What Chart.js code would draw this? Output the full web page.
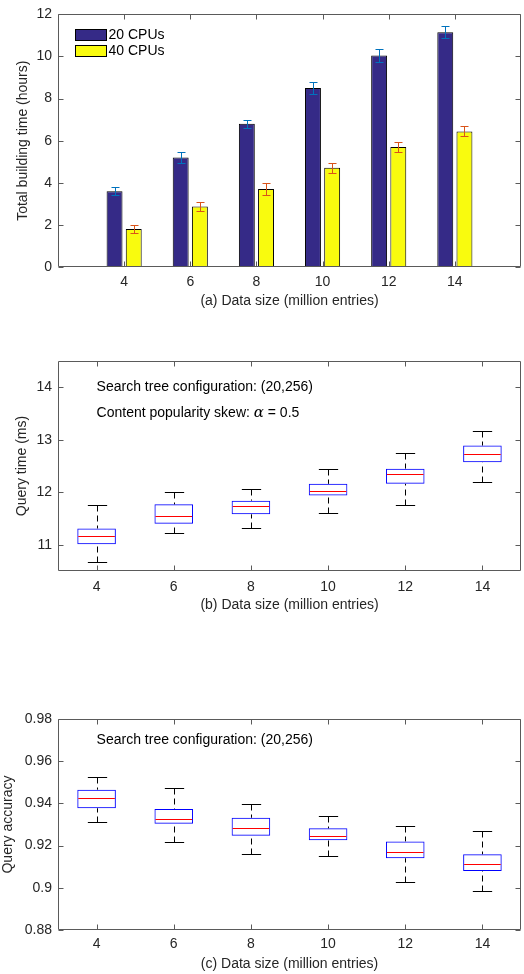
<!DOCTYPE html>
<html>
<head>
<meta charset="utf-8">
<script src="https://cdn.jsdelivr.net/npm/chart.js@4.4.1/dist/chart.umd.min.js"></script>
<style>
body { margin: 0; background: #fff; width: 524px; height: 974px; position: relative; overflow: hidden; }
.bloc { position: absolute; left: 0; width: 524px; }
</style>
</head>
<body>
<div class="bloc" style="top:0"><canvas id="chartA" width="524" height="310"></canvas></div>
<div class="bloc" style="top:330px"><canvas id="chartB" width="524" height="290"></canvas></div>
<div class="bloc" style="top:690px"><canvas id="chartC" width="524" height="284"></canvas></div>
<script>
// données
var categories = [4, 6, 8, 10, 12, 14];

// (a) temps de construction
var cpu20 = [3.6, 5.2, 6.8, 8.5, 10.05, 11.15];
var cpu20Err = [0.2, 0.27, 0.2, 0.27, 0.32, 0.28];
var cpu40 = [1.8, 2.88, 3.7, 4.72, 5.7, 6.44];
var cpu40Err = [0.2, 0.22, 0.27, 0.24, 0.22, 0.24];
var yTicksA = [0, 2, 4, 6, 8, 10, 12];

// (b) temps de requête (boîtes)
var qtBas = [10.67, 11.22, 11.31, 11.61, 11.75, 12.19];
var qtQ1 = [11.01, 11.40, 11.58, 11.94, 12.16, 12.57];
var qtMed = [11.16, 11.54, 11.73, 12.03, 12.34, 12.73];
var qtQ3 = [11.31, 11.77, 11.84, 12.16, 12.45, 12.89];
var qtHaut = [11.75, 12.00, 12.07, 12.44, 12.75, 13.16];
var yTicksB = [11, 12, 13, 14];

// (c) précision (boîtes)
var qaBas = [0.9312, 0.9219, 0.9159, 0.9149, 0.9026, 0.8986];
var qaQ1 = [0.9377, 0.9304, 0.9247, 0.9225, 0.9140, 0.9080];
var qaMed = [0.9427, 0.9328, 0.9282, 0.9244, 0.9168, 0.9111];
var qaQ3 = [0.9465, 0.9373, 0.9332, 0.9282, 0.9220, 0.9159];
var qaHaut = [0.9524, 0.9473, 0.9399, 0.9340, 0.9294, 0.9271];
var yTicksC = [0.88, 0.9, 0.92, 0.94, 0.96, 0.98];

var police = "'Liberation Sans', Arial, Helvetica, sans-serif";
var gris = '#262626';
Chart.defaults.font.family = police;
Chart.defaults.font.size = 14;
Chart.defaults.color = gris;

// cadre façon matlab, graduations vers l'intérieur sur les 4 côtés
var cadre = {
    id: 'cadre',
    afterDraw: function (chart) {
        var ctx = chart.ctx, a = chart.chartArea;
        var sx = chart.scales.x, sy = chart.scales.y;
        var l = Math.round(a.left) + 0.5, r = Math.round(a.right) - 0.5;
        var t = Math.round(a.top) + 0.5, b = Math.round(a.bottom) - 0.5;
        ctx.save();
        ctx.strokeStyle = '#5a5a5a';
        ctx.lineWidth = 1;
        ctx.beginPath();
        sy.ticks.forEach(function (tk, i) {
            var py = Math.round(sy.getPixelForTick(i)) + 0.5;
            ctx.moveTo(l, py); ctx.lineTo(l + 5, py);
            ctx.moveTo(r, py); ctx.lineTo(r - 5, py);
        });
        sx.ticks.forEach(function (tk, i) {
            var px = Math.round(sx.getPixelForTick(i)) + 0.5;
            ctx.moveTo(px, t); ctx.lineTo(px, t + 5);
            ctx.moveTo(px, b); ctx.lineTo(px, b - 5);
        });
        ctx.rect(l, t, r - l, b - t);
        ctx.stroke();
        ctx.restore();
    }
};

// barres d'erreur + légende dans le graphe (a)
var erreurs = {
    id: 'erreurs',
    afterDatasetsDraw: function (chart) {
        var ctx = chart.ctx, sy = chart.scales.y;
        ctx.save();
        ctx.lineWidth = 1;
        chart.data.datasets.forEach(function (ds, d) {
            var meta = chart.getDatasetMeta(d);
            ctx.strokeStyle = ds.errColor;
            ctx.beginPath();
            meta.data.forEach(function (bar, i) {
                var px = Math.round(bar.x) + 0.5;
                var hi = Math.round(sy.getPixelForValue(ds.data[i] + ds.err[i])) + 0.5;
                var lo = Math.round(sy.getPixelForValue(ds.data[i] - ds.err[i])) + 0.5;
                ctx.moveTo(px, hi); ctx.lineTo(px, lo);
                ctx.moveTo(px - 4, hi); ctx.lineTo(px + 4, hi);
                ctx.moveTo(px - 4, lo); ctx.lineTo(px + 4, lo);
            });
            ctx.stroke();
        });
        ctx.restore();
    },
    afterDraw: function (chart) {
        var ctx = chart.ctx, a = chart.chartArea;
        ctx.save();
        ctx.font = '14px ' + police;
        ctx.textBaseline = 'middle';
        chart.data.datasets.forEach(function (ds, d) {
            var x0 = Math.round(a.left) + 17.5;
            var y0 = Math.round(a.top) + 15.5 + d * 16;
            ctx.fillStyle = ds.backgroundColor;
            ctx.fillRect(x0, y0, 31, 11);
            ctx.strokeStyle = '#000';
            ctx.strokeRect(x0, y0, 31, 11);
            ctx.fillStyle = '#000';
            ctx.fillText(ds.label, x0 + 33, y0 + 6);
        });
        ctx.restore();
    }
};

// moustaches et médianes des boîtes
function boites(bas, med, haut) {
    return {
        id: 'boites',
        afterDatasetsDraw: function (chart) {
            var ctx = chart.ctx, sy = chart.scales.y;
            var meta = chart.getDatasetMeta(0);
            var ds = chart.data.datasets[0];
            ctx.save();
            ctx.lineWidth = 1;
            meta.data.forEach(function (bar, i) {
                var px = Math.round(bar.x) + 0.5;
                var w = bar.width;
                var pQ1 = sy.getPixelForValue(ds.data[i][0]);
                var pQ3 = sy.getPixelForValue(ds.data[i][1]);
                var pBas = Math.round(sy.getPixelForValue(bas[i])) + 0.5;
                var pHaut = Math.round(sy.getPixelForValue(haut[i])) + 0.5;
                var pMed = Math.round(sy.getPixelForValue(med[i])) + 0.5;
                // moustaches pointillées
                ctx.strokeStyle = '#000';
                ctx.setLineDash([6, 4]);
                ctx.beginPath();
                ctx.moveTo(px, pHaut); ctx.lineTo(px, pQ3);
                ctx.moveTo(px, pBas); ctx.lineTo(px, pQ1);
                ctx.stroke();
                ctx.setLineDash([]);
                ctx.beginPath();
                ctx.moveTo(px - w / 4, pHaut); ctx.lineTo(px + w / 4, pHaut);
                ctx.moveTo(px - w / 4, pBas); ctx.lineTo(px + w / 4, pBas);
                ctx.stroke();
                // médiane
                ctx.strokeStyle = '#ff0000';
                ctx.beginPath();
                ctx.moveTo(bar.x - w / 2 + 1, pMed); ctx.lineTo(bar.x + w / 2 - 1, pMed);
                ctx.stroke();
            });
            ctx.restore();
        }
    };
}

// texte dans le graphe, positionné en coordonnées de données
function notes(lignes) {
    return {
        id: 'notes',
        afterDraw: function (chart) {
            var ctx = chart.ctx, sx = chart.scales.x, sy = chart.scales.y;
            ctx.save();
            ctx.fillStyle = '#000';
            ctx.textBaseline = 'middle';
            lignes.forEach(function (l) {
                var px = sx.getPixelForValue(l.x), py = sy.getPixelForValue(l.y);
                l.morceaux.forEach(function (m) {
                    ctx.font = m.font || ('14px ' + police);
                    ctx.fillText(m.t, px, py);
                    px += ctx.measureText(m.t).width;
                });
            });
            ctx.restore();
        }
    };
}

function axeY(ticksVals, min, max, titre, padTitre) {
    return {
        min: min,
        max: max,
        grid: { display: false, drawTicks: false },
        border: { display: false },
        afterBuildTicks: function (s) {
            s.ticks = ticksVals.map(function (v) { return { value: v }; });
        },
        ticks: { padding: 6, color: gris, callback: function (v) { return String(v); } },
        title: { display: true, text: titre, color: gris, padding: { top: padTitre, bottom: 0 } },
        afterFit: function (s) { s.width = 58; }
    };
}

// (a)
var ctxA = document.getElementById('chartA').getContext('2d');
var chartA = new Chart(ctxA, {
    type: 'bar',
    data: {
        labels: categories,
        datasets: [{
            label: '20 CPUs',
            data: cpu20,
            err: cpu20Err,
            errColor: '#0072bd',
            backgroundColor: '#352a87',
            borderColor: '#000',
            borderWidth: 1,
            categoryPercentage: 0.58,
            barPercentage: 0.83
        }, {
            label: '40 CPUs',
            data: cpu40,
            err: cpu40Err,
            errColor: '#d95319',
            backgroundColor: '#f9fb0e',
            borderColor: '#000',
            borderWidth: 1,
            categoryPercentage: 0.58,
            barPercentage: 0.83
        }]
    },
    options: {
        responsive: false,
        animation: false,
        layout: { padding: { top: 8, right: 3, bottom: 0, left: 0 } },
        plugins: { legend: { display: false }, tooltip: { enabled: false } },
        scales: {
            x: {
                type: 'linear',
                min: 2,
                max: 16,
                offset: false,
                grid: { display: false, drawTicks: false },
                border: { display: false },
                afterBuildTicks: function (s) {
                    s.ticks = categories.map(function (v) { return { value: v }; });
                },
                ticks: { padding: 6.4, color: gris },
                title: { display: true, text: '(a) Data size (million entries)', color: gris, padding: { top: 0, bottom: 0 } },
                afterFit: function (s) { s.height = 43; }
            },
            y: axeY(yTicksA, 0, 12, 'Total building time (hours)', 14.6)
        }
    },
    plugins: [erreurs, cadre]
});

// (b)
var ctxB = document.getElementById('chartB').getContext('2d');
var chartB = new Chart(ctxB, {
    type: 'bar',
    data: {
        labels: categories,
        datasets: [{
            data: qtQ1.map(function (q, i) { return [q, qtQ3[i]]; }),
            backgroundColor: 'rgba(0,0,0,0)',
            borderColor: '#0000ff',
            borderWidth: 1,
            borderSkipped: false,
            categoryPercentage: 1,
            barPercentage: 0.5
        }]
    },
    options: {
        responsive: false,
        animation: false,
        layout: { padding: { top: 31, right: 3, bottom: 0, left: 0 } },
        plugins: { legend: { display: false }, tooltip: { enabled: false } },
        scales: {
            x: {
                grid: { display: false, drawTicks: false },
                border: { display: false },
                ticks: { padding: 7.4, color: gris },
                title: { display: true, text: '(b) Data size (million entries)', color: gris, padding: { top: 0, bottom: 6.8 } },
                afterFit: function (s) { s.height = 49; }
            },
            y: axeY(yTicksB, 10.5, 14.5, 'Query time (ms)', 13.6)
        }
    },
    plugins: [boites(qtBas, qtMed, qtHaut), cadre, notes([
        { x: 0, y: 14, morceaux: [{ t: 'Search tree configuration: (20,256)' }] },
        { x: 0, y: 13.5, morceaux: [
            { t: 'Content popularity skew: ' },
            { t: 'α', font: "italic 15px 'DejaVu Serif', 'Liberation Serif', serif" },
            { t: ' = 0.5' }
        ] }
    ])]
});

// (c)
var ctxC = document.getElementById('chartC').getContext('2d');
var chartC = new Chart(ctxC, {
    type: 'bar',
    data: {
        labels: categories,
        datasets: [{
            data: qaQ1.map(function (q, i) { return [q, qaQ3[i]]; }),
            backgroundColor: 'rgba(0,0,0,0)',
            borderColor: '#0000ff',
            borderWidth: 1,
            borderSkipped: false,
            categoryPercentage: 1,
            barPercentage: 0.5
        }]
    },
    options: {
        responsive: false,
        animation: false,
        layout: { padding: { top: 29, right: 3, bottom: 0, left: 0 } },
        plugins: { legend: { display: false }, tooltip: { enabled: false } },
        scales: {
            x: {
                grid: { display: false, drawTicks: false },
                border: { display: false },
                ticks: { padding: 5.8, color: gris },
                title: { display: true, text: '(c) Data size (million entries)', color: gris, padding: { top: 0, bottom: 1.4 } },
                afterFit: function (s) { s.height = 44; }
            },
            y: axeY(yTicksC, 0.88, 0.98, 'Query accuracy', 0)
        }
    },
    plugins: [boites(qaBas, qaMed, qaHaut), cadre, notes([
        { x: 0, y: 0.97, morceaux: [{ t: 'Search tree configuration: (20,256)' }] }
    ])]
});
</script>
</body>
</html>
